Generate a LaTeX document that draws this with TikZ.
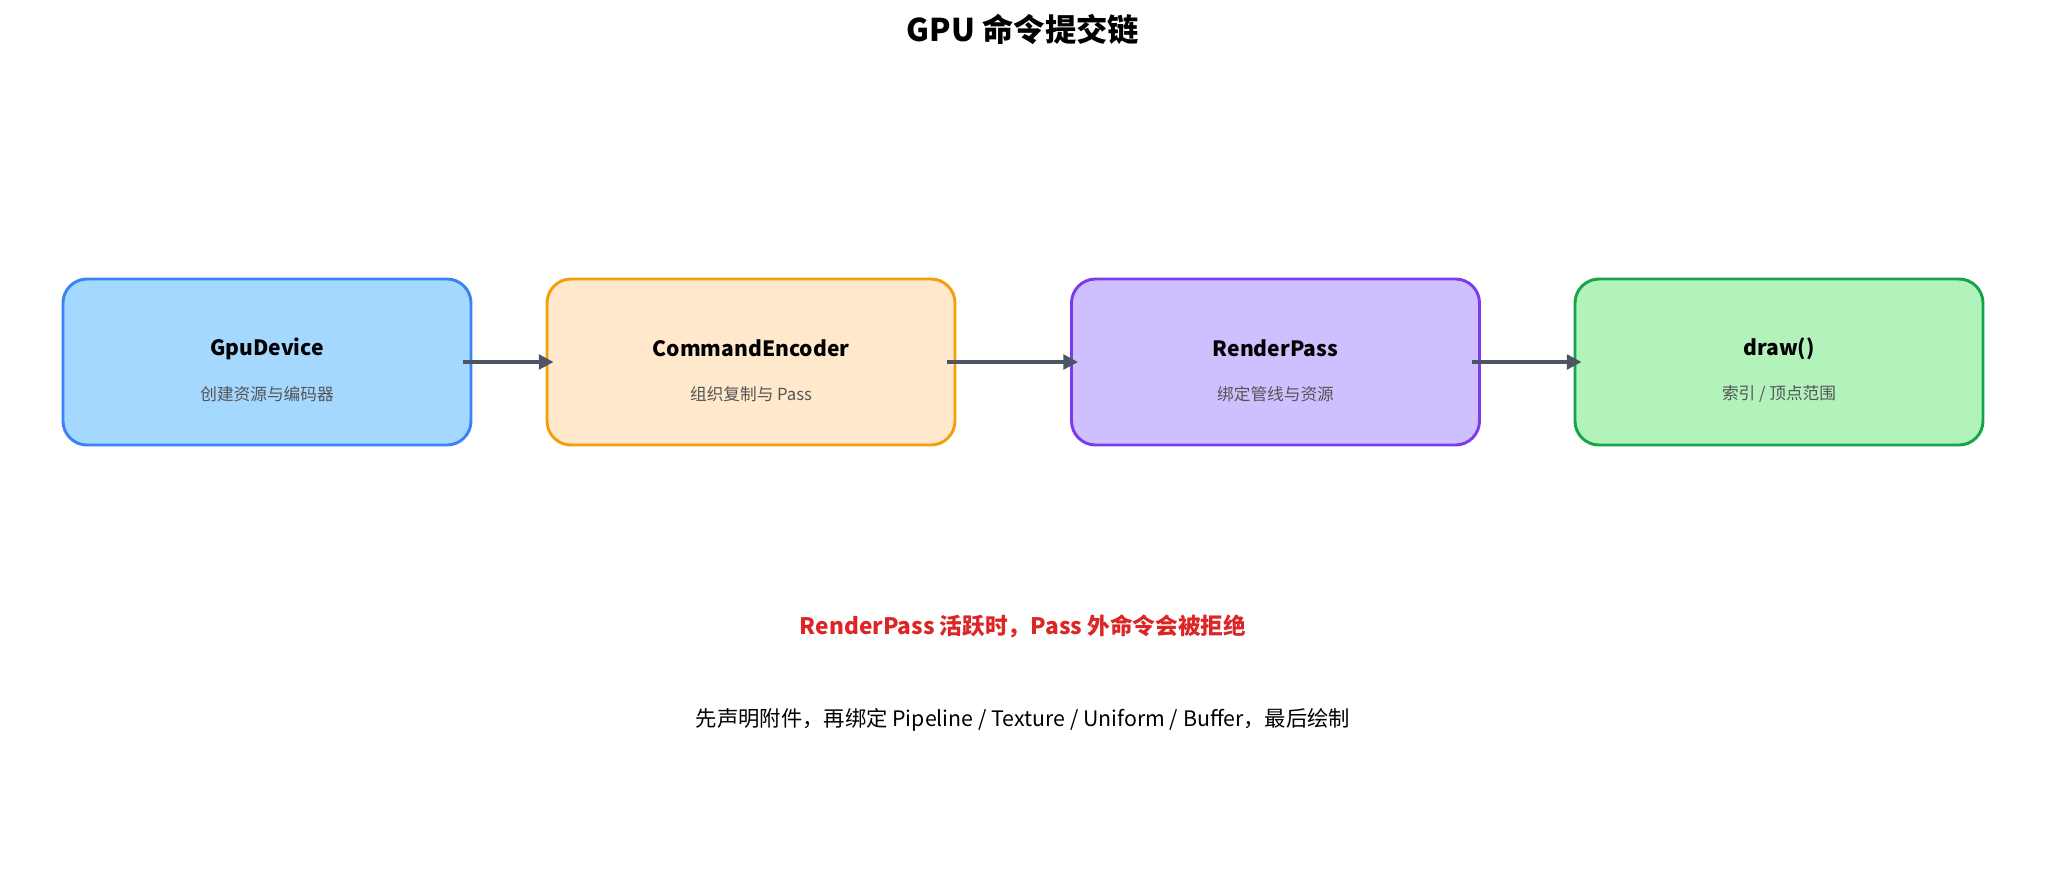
\documentclass[tikz,border=0pt]{standalone}
\usepackage{fontspec}
\setmainfont{Noto Sans CJK SC}
\usetikzlibrary{positioning}
\usetikzlibrary{arrows.meta}

\definecolor{devfill}{HTML}{A5D8FF}
\definecolor{devline}{HTML}{3B82F6}
\definecolor{encfill}{HTML}{FFE8CC}
\definecolor{encline}{HTML}{F59E0B}
\definecolor{passfill}{HTML}{D0BFFF}
\definecolor{passline}{HTML}{7C3AED}
\definecolor{drawfill}{HTML}{B2F2BB}
\definecolor{drawline}{HTML}{16A34A}
\definecolor{arrowgray}{HTML}{4B5563}
\definecolor{warnred}{HTML}{DC2626}
\definecolor{subgray}{HTML}{555555}

\tikzset{
    stagebox/.style={draw, line width=2.2pt, rounded corners=18pt,
        minimum width=306pt, minimum height=124.5pt},
    stagename/.style={font=\fontsize{15.8}{19}\selectfont\bfseries},
    stagenote/.style={font=\fontsize{12.5}{15}\selectfont, text=subgray},
    flow/.style={-{Triangle[length=11pt, width=11pt]}, line width=2.4pt, draw=arrowgray,
        shorten <=-6.75pt, shorten >=-6pt},
}

\begin{document}
\begin{tikzpicture}[x=0.75pt, y=0.75pt]

        \useasboundingbox (0,0) rectangle (2046,-876);

        \node[font=\fontsize{23.5}{28}\selectfont\bfseries] (title) at (1023,-29) {GPU 命令提交链};

        % the four stages
        \node[stagebox, fill=devfill, draw=devline] (gpu) at (267,-362) {};
        \node[stagebox, fill=encfill, draw=encline] (enc) at (751,-362) {};
        \node[stagebox, fill=passfill, draw=passline] (pass) at (1275.5,-362) {};
        \node[stagebox, fill=drawfill, draw=drawline] (drw) at (1779,-362) {};

        \node[stagename] (gpuname) at ([yshift=10pt]gpu.center) {GpuDevice};
        \node[stagenote] (gpunote) at ([yshift=-24pt]gpu.center) {创建资源与编码器};
        \node[stagename] (encname) at ([yshift=10pt]enc.center) {CommandEncoder};
        \node[stagenote] (encnote) at ([yshift=-24pt]enc.center) {组织复制与 Pass};
        \node[stagename] (passname) at ([yshift=10pt]pass.center) {RenderPass};
        \node[stagenote] (passnote) at ([yshift=-24pt]pass.center) {绑定管线与资源};
        \node[stagename] (drwname) at ([yshift=10pt]drw.center) {draw()};
        \node[stagenote] (drwnote) at ([yshift=-24pt]drw.center) {索引 / 顶点范围};

        \draw[flow] (gpu.east) -- (enc.west);
        \draw[flow] (enc.east) -- (pass.west);
        \draw[flow] (pass.east) -- (drw.west);

        % notes below
        \node[font=\fontsize{17}{21}\selectfont\bfseries, text=warnred] (warn) at (1023,-626)
            {RenderPass 活跃时，Pass 外命令会被拒绝};
        \node[font=\fontsize{16}{20}\selectfont] (order) at (1023,-720)
            {先声明附件，再绑定 Pipeline / Texture / Uniform / Buffer，最后绘制};

    \end{tikzpicture}
\end{document}
